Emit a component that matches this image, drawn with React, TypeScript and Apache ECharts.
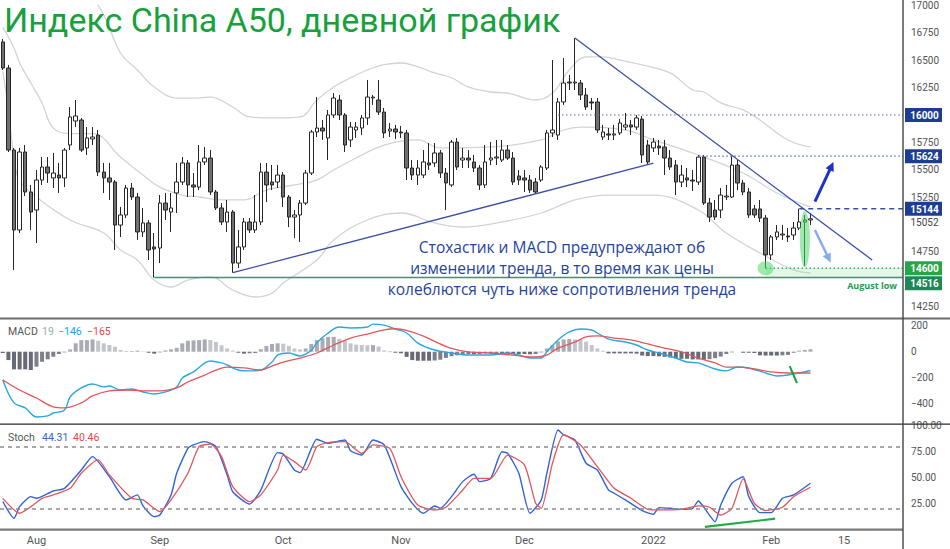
import React, { useEffect, useRef } from "react";
import * as echarts from "echarts";

// ---------- categories ----------
const START_DATE = "2021-07-23";
const CATEGORY_COUNT = 161;
const xTickIndex = [6, 28, 50, 71, 93, 116, 137, 150];
const xTickText = ["Aug", "Sep", "Oct", "Nov", "Dec", "2022", "Feb", "15"];

// ---------- daily candles: [open, close, low, high] ----------
const candles: number[][] = [
  [16667, 16429, 16411, 16694], [16429, 15680, 15662, 16457], [15680, 14950, 14585, 15699], [14950, 15662, 14922, 15699],
  [15662, 15297, 15260, 15726], [15297, 15114, 14950, 15361], [15132, 15406, 14831, 15498], [15406, 15525, 15361, 15616],
  [15525, 15470, 15379, 15616], [15425, 15470, 15333, 15653], [15452, 15425, 15288, 15562], [15425, 15680, 15342, 15699],
  [15726, 15982, 15680, 16073], [15945, 15991, 15890, 16137], [15954, 15680, 15662, 15973], [15699, 15790, 15635, 15890],
  [15781, 15799, 15726, 15890], [15817, 15479, 15443, 15863], [15479, 15425, 15288, 15562], [15425, 15388, 15224, 15562],
  [15388, 14995, 14767, 15406], [14995, 15087, 14886, 15160], [15087, 15333, 15059, 15361], [15333, 15251, 15224, 15379],
  [15251, 14932, 14859, 15288], [14932, 15014, 14886, 15151], [15014, 14767, 14676, 15041], [14795, 14776, 14516, 14922],
  [14785, 15196, 14648, 15269], [15196, 15132, 15041, 15288], [15114, 15151, 14932, 15288], [15288, 15388, 15105, 15562],
  [15388, 15562, 15361, 15616], [15562, 15361, 15251, 15589], [15361, 15342, 15251, 15470], [15342, 15571, 15315, 15726],
  [15571, 15607, 15543, 15708], [15607, 15297, 15269, 15680], [15297, 15151, 15132, 15315], [15151, 15023, 14995, 15196],
  [15023, 15114, 14932, 15224], [15114, 14648, 14560, 15132], [14648, 14795, 14603, 14950], [14795, 15023, 14767, 15059],
  [15023, 14950, 14922, 15059], [14950, 15023, 14922, 15269], [15023, 15479, 14995, 15562], [15479, 15361, 15205, 15562],
  [15388, 15361, 15315, 15543], [15388, 15452, 15333, 15543], [15452, 15251, 15160, 15479], [15251, 15068, 14977, 15269],
  [15068, 15087, 14877, 15132], [15087, 15196, 14840, 15224], [15196, 15470, 15178, 15498], [15470, 15845, 15452, 15863],
  [15845, 15881, 15799, 16164], [15881, 15854, 15772, 15954], [15790, 16000, 15589, 16046], [16000, 16155, 15973, 16201],
  [16137, 16000, 15954, 16183], [16000, 15726, 15662, 16018], [15772, 15890, 15708, 15936], [15863, 15890, 15790, 15936],
  [15881, 15973, 15817, 16000], [15973, 16164, 15909, 16320], [16155, 16164, 16092, 16183], [16137, 16027, 16000, 16320],
  [16027, 15836, 15790, 16064], [15854, 15872, 15799, 15927], [15872, 15845, 15781, 15909], [15845, 15836, 15790, 15900],
  [15836, 15516, 15406, 15863], [15516, 15452, 15406, 15589], [15452, 15516, 15361, 15589], [15452, 15571, 15425, 15680],
  [15562, 15543, 15498, 15744], [15562, 15653, 15525, 15744], [15653, 15470, 15425, 15680], [15470, 15379, 15132, 15516],
  [15361, 15753, 15342, 15772], [15753, 15525, 15498, 15790], [15589, 15607, 15516, 15699], [15607, 15589, 15516, 15680],
  [15571, 15516, 15479, 15635], [15516, 15361, 15315, 15543], [15361, 15571, 15333, 15726], [15589, 15607, 15543, 15753],
  [15607, 15616, 15543, 15772], [15589, 15680, 15571, 15772], [15680, 15607, 15589, 15726], [15607, 15388, 15361, 15662],
  [15443, 15406, 15361, 15498], [15425, 15406, 15297, 15498], [15406, 15315, 15288, 15452], [15388, 15297, 15288, 15425],
  [15406, 15525, 15388, 15543], [15516, 15836, 15498, 15863], [15836, 15863, 15799, 16502], [15817, 16119, 15772, 16155],
  [16119, 16292, 16092, 16520], [16301, 16292, 16228, 16365], [16292, 16301, 16228, 16703], [16292, 16183, 16137, 16320],
  [16183, 16073, 16046, 16247], [16119, 16110, 16046, 16155], [16119, 15863, 15836, 16155], [15799, 15845, 15772, 15909],
  [15827, 15817, 15772, 15881], [15817, 15827, 15772, 15909], [15836, 15927, 15817, 15963], [15890, 15909, 15863, 16018],
  [15909, 15890, 15817, 15954], [15890, 15973, 15863, 16000], [15963, 15635, 15562, 15991], [15726, 15571, 15543, 15772],
  [15699, 15753, 15662, 15790], [15717, 15699, 15635, 15772], [15708, 15607, 15452, 15772], [15607, 15525, 15498, 15680],
  [15543, 15388, 15269, 15589], [15388, 15452, 15342, 15543], [15425, 15406, 15342, 15516], [15406, 15397, 15306, 15498],
  [15388, 15616, 15361, 15635], [15616, 15196, 15178, 15635], [15196, 15068, 15023, 15242], [15132, 15068, 15041, 15224],
  [15132, 15269, 15059, 15333], [15251, 15260, 15224, 15361], [15251, 15543, 15242, 15624], [15543, 15379, 15315, 15589],
  [15379, 15297, 15269, 15406], [15297, 15087, 15059, 15333], [15142, 15087, 15059, 15178], [15142, 15059, 15023, 15224],
  [15059, 14722, 14600, 15087], [14722, 14886, 14676, 14904], [14886, 14932, 14859, 14995], [14904, 14913, 14859, 14995],
  [14895, 14886, 14840, 14968], [14904, 14968, 14859, 15023], [14968, 15023, 14950, 15144], [15023, 15041, 14620, 15087],
  [15041, 15052, 14995, 15105],
];

// ---------- Bollinger bands, read at sample bars: [barIndex, price] ----------
const bbUpper: number[][] = [
  [10, 17500], [14, 17230], [18, 16913], [21, 16566], [24, 16411], [27, 16256], [31, 16155], [34, 16155], [37, 16164],
  [41, 16073], [44, 15982], [49, 15973], [53, 15982], [56, 16137], [59, 16256], [62, 16340], [65, 16411], [68, 16460],
  [71, 16475], [74, 16440], [77, 16384], [80, 16340], [83, 16256], [87, 16210], [90, 16201], [95, 16137], [98, 16200],
  [101, 16411], [104, 16530], [107, 16530], [110, 16502], [114, 16457], [119, 16384], [123, 16228], [125, 16210],
  [128, 16110], [132, 16046], [135, 15954], [140, 15772], [144, 15708],
];
const bbBasis: number[][] = [
  [0, 16800], [2, 16612], [3, 16475], [5, 16292], [7, 16110], [9, 15880], [12, 15830], [16, 15830], [21, 15616],
  [25, 15452], [28, 15342], [32, 15269], [35, 15251], [39, 15224], [43, 15224], [47, 15315], [52, 15361], [56, 15406],
  [59, 15498], [63, 15607], [68, 15726], [74, 15772], [78, 15699], [87, 15708], [96, 15772], [100, 15863], [103, 15890],
  [111, 15863], [116, 15772], [123, 15653], [132, 15470], [138, 15288], [144, 15160],
];
const bbLower: number[][] = [
  [0, 16400], [1, 16050], [2, 15600], [3, 15400], [6, 15251], [12, 15041], [18, 14922], [21, 14767], [24, 14676],
  [27, 14493], [30, 14429], [33, 14493], [37, 14521], [41, 14402], [45, 14338], [48, 14374], [50, 14466], [56, 14676],
  [59, 14859], [65, 15041], [71, 15105], [77, 15014], [82, 14977], [89, 15023], [96, 15105], [102, 15224], [108, 15269],
  [116, 15269], [124, 15132], [129, 14922], [135, 14740], [141, 14585], [144, 14557],
];

// ---------- trend lines: [barIndex, price] ----------
const supportLine: number[][] = [[41, 14560], [116, 15560]];
const resistanceLine: number[][] = [[102, 16703], [155, 14676]];

// ---------- horizontal levels ----------
const levelPrices = [16000, 15624, 15144, 14600, 14516];
const levelFromIdx = [99, 124, 142, 136, 27];
const tagPrices = [16000, 15624, 15144, 15052, 14600, 14516];

// ---------- MACD ----------
const macdLine: number[][] = [
  [0, -219], [2, -397], [4, -436], [6, -506], [8, -498], [9, -475], [11, -452], [12, -351], [14, -281], [16, -250],
  [18, -273], [19, -266], [21, -297], [23, -289], [25, -312], [27, -328], [29, -312], [31, -273], [32, -204], [34, -157],
  [37, -72], [39, -87], [40, -103], [42, -142], [44, -149], [46, -142], [48, -80], [49, -26], [51, -10], [53, -33],
  [55, 10], [56, 70], [58, 145], [60, 191], [62, 184], [65, 191], [66, 214], [68, 206], [70, 176], [72, 145], [74, 67],
  [77, 13], [80, -10], [83, -26], [87, -26], [90, -10], [92, -26], [94, -49], [96, -49], [97, 0], [99, 91], [101, 153],
  [103, 176], [105, 168], [106, 145], [108, 98], [111, 75], [113, 52], [115, 13], [117, -10], [120, -49], [122, -80],
  [124, -87], [127, -134], [129, -149], [131, -119], [133, -126], [136, -165], [138, -188], [140, -181], [142, -165],
  [144, -146],
];
const macdSignal: number[][] = [
  [0, -219], [3, -297], [6, -359], [9, -428], [11, -436], [14, -397], [16, -343], [19, -304], [22, -297], [25, -304],
  [28, -304], [31, -281], [33, -235], [36, -181], [38, -142], [40, -119], [43, -126], [46, -142], [48, -111], [50, -80],
  [53, -49], [56, -10], [59, 52], [62, 106], [65, 137], [68, 170], [70, 178], [72, 165], [75, 120], [77, 80], [80, 25],
  [83, -2], [87, -10], [91, -26], [94, -41], [97, -26], [99, 28], [102, 75], [104, 114], [106, 122], [109, 106],
  [112, 91], [115, 60], [118, 28], [121, -2], [124, -49], [127, -87], [129, -119], [131, -119], [134, -134], [137, -157],
  [140, -165], [144, -165],
];
const macdHist: number[] = [
  -10, -65, -137, -137, -137, -142, -116, -78, -59, -39, -18, -5, 18, 65, 90, 90, 95, 85, 65, 52,
  39, 13, 5, 5, 8, 3, -8, -15, -5, 10, 18, 30, 65, 85, 88, 90, 95, 90, 75, 50,
  25, 8, -8, -15, -12, -10, 20, 45, 60, 65, 62, 45, 25, 18, 25, 60, 90, 105, 115, 115,
  100, 85, 65, 55, 52, 50, 52, 40, 10, -3, -8, -12, -40, -65, -70, -70, -70, -68, -62, -48,
  -35, -28, -25, -20, -20, -18, -13, -13, -10, -10, -15, -18, -18, -18, -20, -18, -5, 25, 50, 80,
  95, 98, 95, 90, 78, 52, 25, 8, -13, -13, -13, -13, -13, -15, -30, -34, -34, -36, -40, -45,
  -52, -55, -55, -60, -60, -62, -58, -50, -38, -18, -5, 0, -8, -8, -10, -28, -30, -30, -30, -28,
  -25, -8, 8, 14, 19,
];

// ---------- Stochastic ----------
const stochK: number[][] = [
  [0, 26.6], [2, 10.3], [3, 21.6], [5, 31.3], [6, 29.7], [9, 36.8], [11, 39.4], [14, 57.2], [16, 70.2], [19, 50.7],
  [22, 28.1], [24, 33], [25, 22.3], [27, 11.9], [28, 13.5], [30, 33], [31, 54], [33, 78.2], [34, 81.5], [36, 84.7],
  [38, 79.8], [40, 52.4], [41, 36.1], [44, 24.1], [46, 37.7], [49, 74.1], [50, 72.8], [52, 57.2], [53, 54.6], [56, 87],
  [58, 83.1], [61, 86.3], [62, 75.9], [64, 71.7], [66, 86.3], [68, 81.5], [71, 41], [73, 24.8], [75, 15.2], [77, 22.3],
  [78, 20], [80, 31.3], [82, 45.9], [84, 53], [85, 45.9], [87, 49.1], [89, 74.9], [90, 73.4], [92, 54], [94, 15.2],
  [96, 28.1], [97, 54], [99, 96], [100, 91.4], [102, 86.3], [104, 63.7], [106, 57.2], [108, 37.7], [109, 34.6],
  [111, 28.1], [114, 17.8], [116, 14.2], [117, 20.7], [119, 20], [121, 19], [123, 20], [124, 27.1], [125, 21], [127, 7.1],
  [128, 23.2], [130, 44.3], [132, 50.7], [133, 31.3], [135, 15.8], [137, 15.8], [139, 29.7], [141, 33], [144, 44.31],
];
const stochD: number[][] = [
  [0, 29.7], [3, 15.2], [5, 21.6], [7, 29.7], [9, 33], [12, 39.4], [14, 54], [17, 67], [19, 52.4], [23, 29.7],
  [25, 28.1], [28, 16.8], [30, 28.1], [33, 54], [35, 79.8], [37, 82.4], [39, 70.2], [41, 41], [44, 26.4], [46, 33],
  [49, 57.2], [50, 71.7], [52, 65.3], [54, 57.2], [56, 79.8], [58, 83.7], [61, 84.7], [64, 73.4], [66, 81.5], [69, 78.2],
  [71, 50.7], [74, 23.2], [77, 18.4], [79, 21], [82, 37.7], [84, 49.1], [87, 49.1], [90, 71.7], [93, 62.1], [95, 24.8],
  [96, 20], [98, 63.7], [100, 91.4], [103, 81.5], [106, 60.5], [109, 39.4], [112, 29.7], [115, 19], [117, 18.4],
  [121, 19], [124, 22.3], [126, 21], [128, 13.5], [130, 20], [132, 48.5], [134, 24.8], [136, 17.8], [139, 21],
  [141, 31.3], [144, 40.46],
];

// ---------- annotation anchors (data coords) ----------
const lowCircleAt = [136, 14600];
const wickEllipseAt = [143, 14866];
const upArrow = [[144.8, 15208], [148.1, 15571]];
const downArrow = [[144.8, 14950], [147.6, 14653]];
const macdMark = [[140.3, -111], [141.6, -243]];
const stochMark = [[125.2, 1.9], [137.7, 9.9]];

const TITLE = "Индекс China A50, дневной график";
const NOTE = [
  "Стохастик и MACD предупреждают об",
  "изменении тренда, в то время как цены",
  "колеблются чуть ниже сопротивления тренда",
];
const MACD_LEGEND = ["MACD", "19", "\u2212146", "\u2212165"];
const STOCH_LEGEND = ["Stoch", "44.31", "40.46"];

// ---------- helpers ----------
function buildDates(start: string, n: number): string[] {
  const out: string[] = [];
  const d = new Date(start + "T00:00:00Z");
  while (out.length < n) {
    const wd = d.getUTCDay();
    if (wd !== 0 && wd !== 6) out.push(d.toISOString().slice(0, 10));
    d.setUTCDate(d.getUTCDate() + 1);
  }
  return out;
}

const FONT = "Roboto, 'Noto Sans', sans-serif";
const AXIS_COLOR = "#555";
const PLOT_RIGHT = 903;

// a scale label is left out where a price tag sits on top of it
const coveredByTag = (v: number) => tagPrices.some((p) => Math.abs(p - v) < 60);

function buildOption() {
  const dates = buildDates(START_DATE, CATEGORY_COUNT);
  const tickMap = new Map<number, string>();
  xTickIndex.forEach((i, k) => tickMap.set(i, xTickText[k]));

  const xAxisBase = (gridIndex: number, showLabels: boolean) => ({
    type: "category",
    gridIndex,
    data: dates,
    boundaryGap: true,
    axisLine: { show: false },
    axisTick: { show: false },
    splitLine: { show: false },
    axisLabel: showLabels
      ? {
          show: true,
          interval: (i: number) => tickMap.has(i),
          formatter: (_v: string, i: number) => tickMap.get(i) || "",
          color: AXIS_COLOR,
          fontSize: 11,
          fontFamily: FONT,
          margin: 6,
        }
      : { show: false },
  });

  const histData = macdHist.map((v, i) => {
    const prev = i > 0 ? macdHist[i - 1] : v;
    let color;
    if (v >= 0) color = v >= prev ? "#a9abb4" : "#c3c5cc";
    else color = v <= prev ? "#686b76" : "#7d808a";
    return { value: v, itemStyle: { color } };
  });

  const bandStyle = { color: "#d3d3d3", width: 1.3 };

  return {
    animation: false,
    backgroundColor: "#ffffff",
    textStyle: { fontFamily: FONT },
    grid: [
      { left: 0, right: 950 - PLOT_RIGHT, top: 5.5, height: 328.5 },
      { left: 0, right: 950 - PLOT_RIGHT, top: 300.1, height: 129 },
      { left: 0, right: 950 - PLOT_RIGHT, top: 425.9, height: 103 },
    ],
    xAxis: [xAxisBase(0, false), xAxisBase(1, false), xAxisBase(2, true)],
    yAxis: [
      {
        type: "value", gridIndex: 0, position: "right", min: 14000, max: 17000, interval: 250,
        axisLine: { show: false }, axisTick: { show: false }, splitLine: { show: false },
        axisLabel: { color: AXIS_COLOR, fontSize: 10, margin: 8, fontFamily: FONT,
          formatter: (v: number) => (v === 14000 || coveredByTag(v) ? "" : String(v)) },
      },
      {
        type: "value", gridIndex: 1, position: "right", min: -600, max: 400, interval: 200,
        axisLine: { show: false }, axisTick: { show: false }, splitLine: { show: false },
        axisLabel: { color: AXIS_COLOR, fontSize: 10, margin: 8, fontFamily: FONT,
          formatter: (v: number) => (v === 400 || v === -600 ? "" : v < 0 ? "\u2212" + Math.abs(v) : String(v)) },
      },
      {
        type: "value", gridIndex: 2, position: "right", min: 0, max: 100, interval: 25,
        axisLine: { show: false }, axisTick: { show: false }, splitLine: { show: false },
        axisLabel: { color: AXIS_COLOR, fontSize: 10, margin: 8, fontFamily: FONT,
          formatter: (v: number) => (v === 0 ? "" : v.toFixed(2)) },
      },
    ],
    series: [
      { type: "line", xAxisIndex: 0, yAxisIndex: 0, data: bbUpper, showSymbol: false, smooth: 0.4, lineStyle: bandStyle, z: 1 },
      { type: "line", xAxisIndex: 0, yAxisIndex: 0, data: bbBasis, showSymbol: false, smooth: 0.4, lineStyle: bandStyle, z: 1 },
      { type: "line", xAxisIndex: 0, yAxisIndex: 0, data: bbLower, showSymbol: false, smooth: 0.4, lineStyle: bandStyle, z: 1 },
      {
        type: "candlestick", xAxisIndex: 0, yAxisIndex: 0, data: candles, barWidth: 4, z: 3,
        itemStyle: { color: "#ffffff", color0: "#707070", borderColor: "#262626", borderColor0: "#262626", borderWidth: 1 },
      },
      { type: "line", xAxisIndex: 0, yAxisIndex: 0, data: supportLine, showSymbol: false, lineStyle: { color: "#3a4ea6", width: 1.3 }, z: 4 },
      { type: "line", xAxisIndex: 0, yAxisIndex: 0, data: resistanceLine, showSymbol: false, lineStyle: { color: "#3a4ea6", width: 1.3 }, z: 4 },
      { type: "bar", xAxisIndex: 1, yAxisIndex: 1, data: histData, barWidth: 4, z: 2 },
      { type: "line", xAxisIndex: 1, yAxisIndex: 1, data: macdLine, showSymbol: false, smooth: 0.35, lineStyle: { color: "#29a7e4", width: 1.4 }, z: 3 },
      { type: "line", xAxisIndex: 1, yAxisIndex: 1, data: macdSignal, showSymbol: false, smooth: 0.35, lineStyle: { color: "#e4555b", width: 1.3 }, z: 3 },
      {
        type: "line", xAxisIndex: 2, yAxisIndex: 2, data: stochK, showSymbol: false, smooth: 0.2, lineStyle: { color: "#2f63d6", width: 1.4 }, z: 3,
        markLine: {
          symbol: "none", silent: true, label: { show: false },
          lineStyle: { type: [4, 4], color: "#8c8c8c", width: 1.5 },
          data: [{ yAxis: 80 }, { yAxis: 20 }],
        },
      },
      { type: "line", xAxisIndex: 2, yAxisIndex: 2, data: stochD, showSymbol: false, smooth: 0.2, lineStyle: { color: "#e4555b", width: 1.3 }, z: 3 },
    ],
  };
}

function buildGraphics(chart: any) {
  const p0 = chart.convertToPixel({ gridIndex: 0 }, [0, 15000]);
  const p1 = chart.convertToPixel({ gridIndex: 0 }, [10, 15000]);
  const step = (p1[0] - p0[0]) / 10;
  const xOf = (i: number) => p0[0] + i * step;
  const yP = (v: number) => chart.convertToPixel({ yAxisIndex: 0 }, v) as number;
  const yM = (v: number) => chart.convertToPixel({ yAxisIndex: 1 }, v) as number;
  const yS = (v: number) => chart.convertToPixel({ yAxisIndex: 2 }, v) as number;

  const g: any[] = [];
  const Z = 50;

  // panel separators and price scale line
  g.push({ type: "line", z: Z, shape: { x1: 0, y1: 318.5, x2: 950, y2: 318.5 }, style: { stroke: "#6c6c6c", lineWidth: 2.2 } });
  g.push({ type: "line", z: Z, shape: { x1: 0, y1: 424.2, x2: 950, y2: 424.2 }, style: { stroke: "#2b2b2b", lineWidth: 1.2 } });
  g.push({ type: "line", z: Z, shape: { x1: 0, y1: 529.6, x2: PLOT_RIGHT, y2: 529.6 }, style: { stroke: "#7a7a7a", lineWidth: 2.2 } });
  g.push({ type: "line", z: Z, shape: { x1: PLOT_RIGHT, y1: 0, x2: PLOT_RIGHT, y2: 549 }, style: { stroke: "#444", lineWidth: 1.4 } });

  // light green zone between 14600 and 14516
  const zx = xOf(levelFromIdx[3]);
  g.push({ type: "rect", z: 2, shape: { x: zx, y: yP(14600), width: PLOT_RIGHT - zx, height: yP(14516) - yP(14600) }, style: { fill: "rgba(150,225,165,0.28)" } });

  // horizontal levels
  const levelStyle = [
    { stroke: "#5a6bbd", lineDash: [1.5, 2.5], lineWidth: 1.2 },
    { stroke: "#5a6bbd", lineDash: [1.5, 2.5], lineWidth: 1.2 },
    { stroke: "#3550a6", lineDash: [5, 4], lineWidth: 1.4 },
    { stroke: "#33b05a", lineDash: [1.5, 2.5], lineWidth: 1.4 },
    { stroke: "#2a9d72", lineWidth: 1.3 },
  ];
  levelPrices.forEach((p, k) => {
    const y = yP(p);
    g.push({ type: "line", z: 4, shape: { x1: xOf(levelFromIdx[k]), y1: y, x2: PLOT_RIGHT, y2: y }, style: levelStyle[k] });
  });

  // green highlight ellipses
  g.push({ type: "ellipse", z: 5, shape: { cx: xOf(lowCircleAt[0]), cy: yP(lowCircleAt[1]), rx: 8, ry: 7 }, style: { fill: "rgba(80,215,110,0.55)" } });
  g.push({ type: "ellipse", z: 5, shape: { cx: xOf(wickEllipseAt[0]), cy: yP(wickEllipseAt[1]), rx: 5, ry: 28 }, style: { fill: "rgba(80,215,110,0.55)" } });

  // arrows
  const arrow = (pts: number[][], color: string, width: number) => {
    const ax = xOf(pts[0][0]), ay = yP(pts[0][1]);
    const bx = xOf(pts[1][0]), by = yP(pts[1][1]);
    const dx = bx - ax, dy = by - ay;
    const len = Math.hypot(dx, dy);
    const ux = dx / len, uy = dy / len;
    const hl = 9, hw = 4.5;
    const sx = bx - ux * hl, sy = by - uy * hl;
    g.push({ type: "line", z: 6, shape: { x1: ax, y1: ay, x2: sx + ux * 1, y2: sy + uy * 1 }, style: { stroke: color, lineWidth: width } });
    g.push({ type: "polygon", z: 6, shape: { points: [[bx, by], [sx - uy * hw, sy + ux * hw], [sx + uy * hw, sy - ux * hw]] }, style: { fill: color } });
  };
  arrow(upArrow, "#1b33c9", 3);
  arrow(downArrow, "#86acee", 2.5);

  // green marks in the indicator panels
  g.push({ type: "line", z: 6, shape: { x1: xOf(macdMark[0][0]), y1: yM(macdMark[0][1]), x2: xOf(macdMark[1][0]), y2: yM(macdMark[1][1]) }, style: { stroke: "#14a03a", lineWidth: 2 } });
  g.push({ type: "line", z: 6, shape: { x1: xOf(stochMark[0][0]), y1: yS(stochMark[0][1]), x2: xOf(stochMark[1][0]), y2: yS(stochMark[1][1]) }, style: { stroke: "#1fae46", lineWidth: 2.2 } });

  // price tags on the scale
  const tagStyle = [
    { bg: "#1d3d91", fg: "#fff", bold: true },
    { bg: "#1d3d91", fg: "#fff", bold: true },
    { bg: "#1d3d91", fg: "#fff", bold: true },
    { bg: "", fg: "#444", bold: false },
    { bg: "#27a547", fg: "#fff", bold: true },
    { bg: "#1f8856", fg: "#fff", bold: true },
  ];
  const H = 14;
  let prevBottom = -Infinity;
  tagPrices.forEach((p, k) => {
    const st = tagStyle[k];
    let cy = yP(p);
    if (!st.bg) {
      // plain last-price label, nudged just below the box above it
      cy = Math.max(cy, prevBottom + 6.5);
      g.push({ type: "text", z: 61, style: { x: PLOT_RIGHT + 21.5, y: cy, text: String(p), fill: st.fg, font: `10px ${FONT}`, align: "center", verticalAlign: "middle" } });
      return;
    }
    if (cy - H / 2 < prevBottom + 1) cy = prevBottom + 1 + H / 2;
    prevBottom = cy + H / 2;
    g.push({ type: "rect", z: 62, shape: { x: PLOT_RIGHT + 2, y: cy - H / 2, width: 37, height: H }, style: { fill: st.bg } });
    g.push({ type: "text", z: 63, style: { x: PLOT_RIGHT + 21.5, y: cy + 0.5, text: String(p), fill: st.fg, font: `${st.bold ? "bold " : ""}10px ${FONT}`, align: "center", verticalAlign: "middle" } });
  });

  // "August low" label
  g.push({ type: "text", z: 10, style: { x: 897, y: yP(14516) + 8, text: "August low", fill: "#1f9a55", font: `bold 9px 'Open Sans', sans-serif`, align: "right", verticalAlign: "middle" } });

  // title
  g.push({ type: "text", z: 70, style: { x: 4, y: 20, text: TITLE, fill: "#17a13d", font: `34px Roboto, sans-serif`, align: "left", verticalAlign: "middle" } });

  // annotation text
  NOTE.forEach((line, k) => {
    g.push({ type: "text", z: 70, style: { x: 562, y: 246.5 + k * 21, text: line, fill: "#24449c", font: `15.5px 'Open Sans', sans-serif`, align: "center", verticalAlign: "middle" } });
  });

  // indicator legends
  const legendFont = `10.5px ${FONT}`;
  const mx = [8, 42, 58, 87];
  const mc = ["#555", "#a7a7a7", "#1e9fe3", "#e4474f"];
  MACD_LEGEND.forEach((t, k) => g.push({ type: "text", z: 70, style: { x: mx[k], y: 331.5, text: t, fill: mc[k], font: legendFont, verticalAlign: "middle" } }));
  const sx = [8, 42, 73];
  const sc = ["#555", "#2f63d6", "#e4474f"];
  STOCH_LEGEND.forEach((t, k) => g.push({ type: "text", z: 70, style: { x: sx[k], y: 437.5, text: t, fill: sc[k], font: legendFont, verticalAlign: "middle" } }));

  return g;
}

export default function App() {
  const ref = useRef<HTMLDivElement>(null);
  useEffect(() => {
    const el = ref.current;
    if (!el) return;
    const chart = echarts.init(el, undefined, { renderer: "svg" });
    chart.setOption(buildOption() as any);
    chart.setOption({ graphic: buildGraphics(chart) } as any);
    return () => chart.dispose();
  }, []);
  return (
    <div
      ref={ref}
      style={{ position: "fixed", left: 0, top: 0, width: 950, height: 549, background: "#fff" }}
    />
  );
}
